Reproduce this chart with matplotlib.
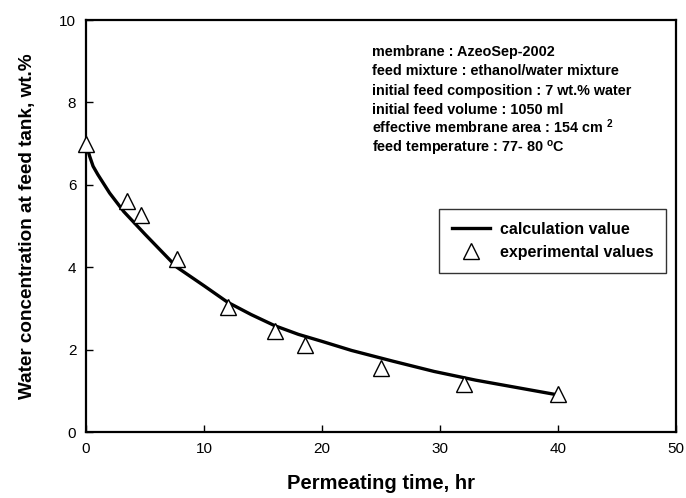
import numpy as np
import matplotlib
matplotlib.use("Agg")
import matplotlib.pyplot as plt

plt.rcParams['font.family'] = ['Liberation Sans', 'DejaVu Sans']
plt.rcParams['mathtext.fontset'] = 'custom'
plt.rcParams['mathtext.bf'] = 'Liberation Sans:bold'
plt.rcParams['mathtext.rm'] = 'Liberation Sans'

# the data
# experimental points
exp_time = [0, 3.5, 4.7, 7.7, 12.0, 16.0, 18.6, 25.0, 32.0, 40.0]
exp_conc = [7.0, 5.6, 5.27, 4.2, 3.03, 2.45, 2.1, 1.55, 1.17, 0.93]

# calculated curve, read point by point
calc_time = [0, 0.3, 0.6, 1.0, 2.0, 3.2, 5.0, 7.7, 10.0, 12.0, 14.0, 16.0,
             18.0, 20.0, 22.5, 26.0, 29.5, 33.0, 36.5, 40.0]
calc_conc = [7.0, 6.7, 6.45, 6.25, 5.8, 5.35, 4.8, 4.0, 3.55, 3.15, 2.85, 2.58,
             2.37, 2.2, 1.98, 1.72, 1.47, 1.26, 1.08, 0.9]

info_lines = ["membrane : AzeoSep-2002",
              "feed mixture : ethanol/water mixture",
              "initial feed composition : 7 wt.% water",
              "initial feed volume : 1050 ml",
              "effective membrane area : 154 cm $^{\\bf 2}$",
              "feed temperature : 77- 80 $^{\\bf o}$C"]

fig = plt.figure(figsize=(6.86, 4.98), dpi=100)
ax = fig.add_axes([0.1254, 0.1325, 0.86, 0.8273])

line, = ax.plot(calc_time, calc_conc, color='black', lw=2.4, zorder=2)
pts, = ax.plot(exp_time, exp_conc, '^', ms=12, mfc='white', mec='black',
               mew=1.0, linestyle='none', zorder=3, clip_on=False)

# axes and labels
ax.set_xlim(0, 50)
ax.set_ylim(0, 10)
ax.set_xticks(np.arange(0, 51, 10))
ax.set_yticks(np.arange(0, 11, 2))
ax.tick_params(direction='in', length=5, width=1, labelsize=11, pad=7)
for s in ax.spines.values():
    s.set_linewidth(1.6)
ax.set_xlabel('Permeating time, hr', fontsize=14.5, fontweight='bold', labelpad=13)
ax.set_ylabel('Water concentration at feed tank, wt.%', fontsize=13.6,
              fontweight='bold', labelpad=17)

# info block, lines placed on a common baseline step
for i, txt in enumerate(info_lines):
    ax.text(0.484, 0.912 - i * 0.0466, txt, transform=ax.transAxes,
            fontsize=10.4, fontweight='bold', va='baseline', ha='left')

# add a legend
leg = ax.legend((line, pts), ('calculation value', 'experimental values'),
                loc='upper left', bbox_to_anchor=(0.598, 0.541), frameon=True,
                fancybox=False, edgecolor='black',
                prop={'weight': 'bold', 'size': 11.5}, handlelength=2.4,
                borderpad=0.8, labelspacing=0.5, handletextpad=0.6,
                borderaxespad=0)
leg.get_frame().set_linewidth(1.0)

fig.savefig('out.png', dpi=100)
